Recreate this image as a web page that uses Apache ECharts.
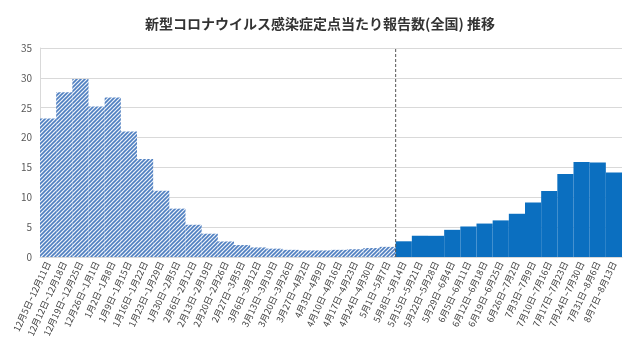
<!DOCTYPE html>
<html><head><meta charset="utf-8">
<script src="https://cdn.jsdelivr.net/npm/echarts@6/dist/echarts.min.js"></script>
<style>html,body{margin:0;padding:0;background:#fff}#c{width:640px;height:356px}</style>
</head><body><div id="c"></div>
<script>
var title = '新型コロナウイルス感染症定点当たり報告数(全国) 推移';
var categories = ['12月5日~12月11日','12月12日~12月18日','12月19日~12月25日','12月26日~1月1日','1月2日~1月8日','1月9日~1月15日','1月16日~1月22日','1月23日~1月29日','1月30日~2月5日','2月6日~2月12日','2月13日~2月19日','2月20日~2月26日','2月27日~3月5日','3月6日~3月12日','3月13日~3月19日','3月20日~3月26日','3月27日~4月2日','4月3日~4月9日','4月10日~4月16日','4月17日~4月23日','4月24日~4月30日','5月1日~5月7日','5月8日~5月14日','5月15日~5月21日','5月22日~5月28日','5月29日~6月4日','6月5日~6月11日','6月12日~6月18日','6月19日~6月25日','6月26日~7月2日','7月3日~7月9日','7月10日~7月16日','7月17日~7月23日','7月24日~7月30日','7月31日~8月6日','8月7日~8月13日'];
var estimatedValues = [23.2,27.6,29.8,25.2,26.7,21.0,16.4,11.1,8.1,5.4,3.9,2.6,2.0,1.6,1.4,1.2,1.1,1.1,1.2,1.3,1.5,1.7];
var reportedValues = [2.63,3.56,3.55,4.55,5.11,5.60,6.13,7.24,9.14,11.04,13.91,15.91,15.81,14.16];
var yTicks = [0,5,10,15,20,25,30,35];

var cv = document.createElement('canvas'); cv.width = 4; cv.height = 4;
var cx = cv.getContext('2d');
cx.fillStyle = '#eef3fa'; cx.fillRect(0,0,4,4);
cx.strokeStyle = '#4f7fc0'; cx.lineWidth = 1.6;
cx.beginPath(); cx.moveTo(-1,5); cx.lineTo(5,-1); cx.moveTo(-1,1); cx.lineTo(1,-1); cx.moveTo(3,5); cx.lineTo(5,3); cx.stroke();

var data = [];
estimatedValues.forEach(function(v){ data.push({value:v, itemStyle:{color:{image:cv, repeat:'repeat'}}}); });
reportedValues.forEach(function(v){ data.push({value:v, itemStyle:{color:'#0b6fc0'}}); });
var splitPos = estimatedValues.length;

var chart = echarts.init(document.getElementById('c'), null, {renderer:'canvas'});
chart.setOption({
  animation:false,
  title:{text:title, left:'center', top:12, textStyle:{fontFamily:'Noto Sans CJK JP', fontSize:14, fontWeight:'bold', color:'#333'}},
  grid:{left:40, right:18, top:48, bottom:99},
  xAxis:[{type:'category', data:categories, axisTick:{show:false}, axisLine:{lineStyle:{color:'#d9d9d9'}},
    axisLabel:{rotate:65, interval:0, fontSize:9, color:'#404040', fontFamily:'Noto Sans CJK JP', margin:5}},
    {type:'value', min:0, max:categories.length, show:false}],
  yAxis:{type:'value', min:yTicks[0], max:yTicks[yTicks.length-1], interval:5,
    axisLine:{show:true, lineStyle:{color:'#d9d9d9'}}, axisTick:{show:false},
    splitLine:{lineStyle:{color:'#d9d9d9'}},
    axisLabel:{fontSize:10, color:'#595959', fontFamily:'Noto Sans CJK JP', margin:8}},
  series:[
    {type:'bar', data:data, barCategoryGap:0, xAxisIndex:0},
    {type:'line', xAxisIndex:1, data:[[splitPos,0],[splitPos,35]], symbol:'none',
      lineStyle:{color:'#555', width:1, type:[3,2]}}
  ]
});
</script></body></html>
